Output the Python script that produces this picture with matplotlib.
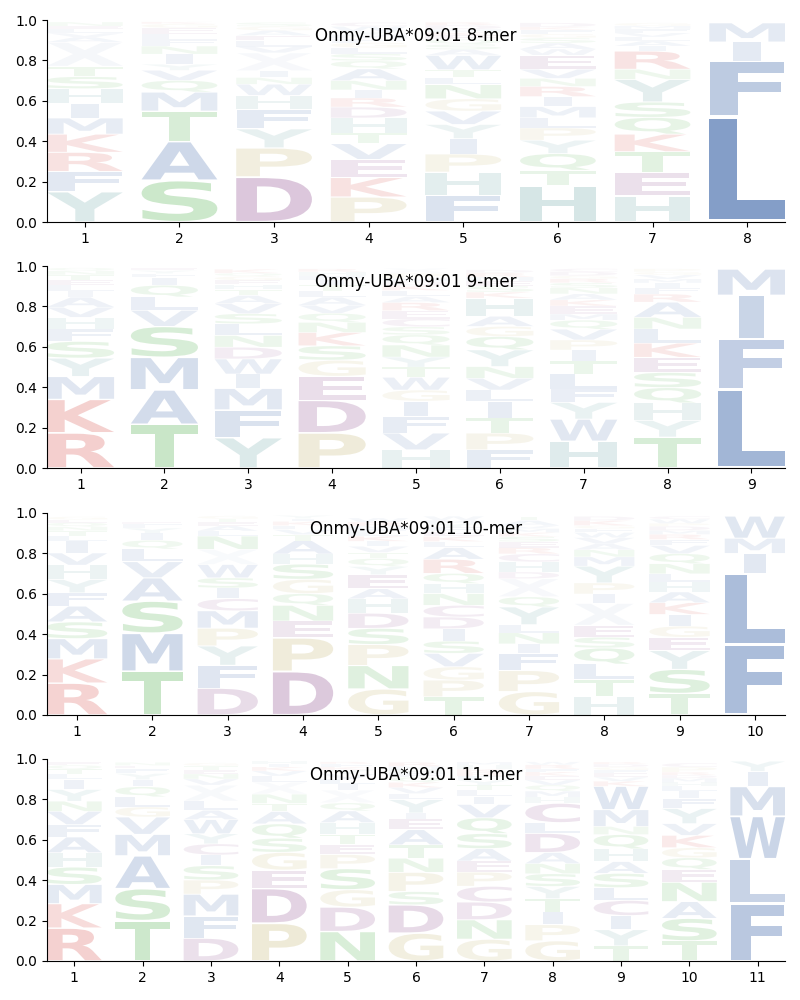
import matplotlib
matplotlib.use("Agg")
import matplotlib.pyplot as plt
import matplotlib.transforms as mtransforms
from matplotlib.textpath import TextPath
from matplotlib.patches import PathPatch
from matplotlib.font_manager import FontProperties

## stacked letters per position, bottom -> top, with their heights
mer8_letters = ["YFRKMIHSTXAVLEN", "SATMQVYINFLEGK", "DPYFHWNIXVLEAGS",
                "PKEVTHDRINAQSLGFMYWC", "FHPIYVGNLTWASQEKMDR",
                "HTQYPLMIRNVEWASGFKD", "HETKQSYNRIALVFMG", "LFIM"]
mer8_heights = [
    [.15, .10, .095, .09, .08, .07, .075, .06, .05, .12, .025, .02, .02, .015, .02],
    [.206, .193, .15, .094, .058, .05, .03, .05, .04, .03, .03, .03, .02, .01],
    [.223, .144, .094, .096, .07, .055, .033, .033, .09, .03, .03, .025, .025, .02, .02],
    [.124, .096, .09, .078, .053, .074, .054, .045, .04, .046, .058, .04, .035, .03, .025, .02, .02, .015, .025, .02],
    [.132, .115, .09, .076, .07, .066, .061, .07, .036, .038, .07, .03, .025, .025, .02, .015, .015, .02, .015],
    [.18, .076, .083, .066, .061, .05, .055, .05, .05, .04, .045, .07, .03, .03, .025, .02, .02, .015, .02],
    [.129, .115, .104, .087, .083, .076, .112, .05, .09, .025, .025, .02, .02, .02, .015, .015],
    [.525, .272, .094, .095],
]

mer9_letters = ["RKMYSFHVAILETNQ", "TAMSVLQIFYE", "YFMIWDNLSVATHEGQK",
                "PDEGSKNQVALTIFHR", "HVFIGWTYNQSCERALKDMPX",
                "FPTILVNYQGAHKSEMRD", "HWYFLTIPVQMEKANSRGDC",
                "TYHQSEKLNARFIMVGP", "LFIM"]
mer9_heights = [
    [.174, .166, .113, .091, .083, .061, .058, .05, .05, .03, .03, .025, .025, .02, .015],
    [.216, .171, .161, .153, .08, .066, .058, .038, .02, .015, .01],
    [.15, .138, .106, .071, .075, .058, .058, .058, .05, .05, .04, .03, .025, .02, .02, .015, .02],
    [.174, .161, .119, .08, .071, .066, .05, .045, .04, .04, .03, .03, .025, .02, .02, .015],
    [.09, .083, .083, .075, .055, .063, .05, .05, .06, .05, .04, .04, .04, .04, .03, .03, .025, .02, .015, .025, .025],
    [.09, .083, .075, .08, .058, .058, .058, .083, .066, .05, .05, .09, .03, .03, .025, .02, .02, .015],
    [.133, .109, .083, .066, .075, .063, .055, .05, .053, .045, .03, .04, .03, .03, .03, .025, .02, .015, .02, .015],
    [.153, .083, .086, .076, .075, .075, .07, .07, .058, .075, .04, .03, .025, .02, .02, .015, .015],
    [.39, .25, .215, .13],
]

mer10_letters = ["RKMSAFYHVILTNQEG", "TMSAVLQIYFE", "DFYPMCISWXNLAETG",
                 "DPENQGSHATVLKIY", "GNPSDHAEYQTVIKLFMRW",
                 "TPGVSIDCNHQRALKEFYMW", "GPFINLYQXDHCRESKMVAT",
                 "HTLQSEXIPYMNAVWFGKD", "TSYEGIKAHLNQVFRMDPWC", "FLIMW"]
mer10_heights = [
    [.158, .12, .1, .083, .078, .066, .066, .071, .06, .06, .025, .025, .02, .02, .015, .015],
    [.216, .189, .159, .115, .08, .063, .043, .035, .025, .02, .01],
    [.133, .113, .096, .088, .086, .06, .053, .05, .066, .075, .066, .025, .025, .02, .015, .015],
    [.216, .166, .083, .078, .058, .071, .075, .05, .066, .03, .025, .02, .02, .015, .015],
    [.129, .116, .104, .08, .075, .071, .05, .07, .04, .04, .03, .03, .025, .025, .02, .015, .015, .02, .02],
    [.09, .083, .066, .066, .061, .061, .058, .058, .058, .05, .05, .07, .058, .03, .025, .025, .02, .02, .015, .02],
    [.116, .104, .086, .046, .055, .04, .088, .05, .09, .033, .05, .04, .03, .03, .025, .02, .02, .015, .025, .02],
    [.09, .086, .076, .08, .053, .058, .11, .046, .055, .083, .046, .035, .03, .03, .025, .02, .015, .025, .02],
    [.107, .119, .093, .066, .055, .058, .058, .053, .05, .04, .05, .05, .04, .03, .025, .02, .02, .015, .02, .015],
    [.35, .35, .1, .075, .11],
]

mer11_letters = ["RKMSHAFVNYILTQE", "TSAMVGLQIYFEN", "DFMPSICYWALXVNETG",
                 "PDEGSQATNXLVKIH", "NDGSPETHAQXILVYKFR",
                 "GDSPNTAEIYLVKQFHMR", "GNDCPEASQVILTYFRKHM",
                 "GPITYSNADLCHMQVEKFRW", "TYICLSAHQNMWKVEFGDR",
                 "TSANEQGKVYFILHMDRPC", "FLWMIY"]
mer11_heights = [
    [.163, .121, .095, .086, .071, .078, .061, .066, .05, .058, .05, .025, .025, .02, .015],
    [.2, .158, .163, .106, .086, .05, .05, .05, .035, .03, .025, .015, .015],
    [.113, .11, .108, .07, .071, .053, .055, .05, .07, .046, .045, .08, .03, .025, .02, .02, .015],
    [.187, .172, .091, .088, .07, .071, .061, .04, .046, .06, .03, .025, .02, .015, .015],
    [.146, .121, .086, .104, .07, .05, .05, .058, .058, .04, .063, .03, .025, .025, .02, .015, .015, .01],
    [.138, .14, .066, .095, .07, .066, .075, .053, .03, .066, .03, .03, .025, .025, .02, .02, .015, .02],
    [.108, .096, .088, .078, .07, .055, .061, .075, .078, .066, .04, .03, .025, .025, .02, .02, .015, .02, .015],
    [.1, .08, .063, .066, .06, .063, .05, .055, .095, .053, .096, .03, .03, .03, .025, .02, .02, .015, .02, .015],
    [.075, .08, .07, .075, .063, .071, .058, .063, .071, .04, .083, .116, .025, .02, .02, .015, .015, .015, .01],
    [.1, .111, .083, .096, .063, .058, .05, .061, .058, .075, .05, .035, .025, .02, .02, .015, .015, .025, .02],
    [.285, .22, .212, .147, .075, .05],
]

panels = [("Onmy-UBA*09:01 8-mer", mer8_letters, mer8_heights),
          ("Onmy-UBA*09:01 9-mer", mer9_letters, mer9_heights),
          ("Onmy-UBA*09:01 10-mer", mer10_letters, mer10_heights),
          ("Onmy-UBA*09:01 11-mer", mer11_letters, mer11_heights)]

## colour by residue group
blue, red, green, purple, olive, teal = "#4c72b0", "#d43f3a", "#4daf4a", "#8e4d8e", "#c2b26a", "#5f9ea0"
aa_color = {}
for aa in "AFILMVWX":
    aa_color[aa] = blue
for aa in "KR":
    aa_color[aa] = red
for aa in "STNQ":
    aa_color[aa] = green
for aa in "DEC":
    aa_color[aa] = purple
for aa in "PG":
    aa_color[aa] = olive
for aa in "HY":
    aa_color[aa] = teal

WIDTH = 0.8
VPAD = 0.05
fp = FontProperties(family="DejaVu Sans", weight="bold")
# narrow glyphs are not stretched wider than 'E' would be
ref_width = TextPath((0, 0), "E", size=1, prop=fp).get_extents().width


def draw_letter(ax, ch, x, y0, h):
    path = TextPath((0, 0), ch, size=1, prop=fp)
    ext = path.get_extents()
    sx = min(WIDTH / ext.width, WIDTH / ref_width)
    gw = ext.width * sx
    gh = h * (1 - VPAD)
    tr = (mtransforms.Affine2D()
          .translate(-ext.x0, -ext.y0)
          .scale(sx, gh / ext.height)
          .translate(x - gw / 2, y0 + h * VPAD / 2))
    alpha = min(1.0, 0.03 + 1.25 * h)
    if ch == "X":
        alpha *= 0.3
    ax.add_patch(PathPatch(tr.transform_path(path), facecolor=aa_color[ch],
                           edgecolor="none", alpha=alpha))


fig = plt.figure(figsize=(8, 10), dpi=100)
bottoms = [0.778, 0.532, 0.285, 0.039]
for (title, letters, heights), b in zip(panels, bottoms):
    ax = fig.add_axes([0.05875, b, 0.9225, 0.202])
    n = len(letters)
    for i in range(n):
        y = 0.0
        for ch, h in zip(letters[i], heights[i]):
            draw_letter(ax, ch, i + 1, y, h)
            y += h
    ax.set_xlim(1 - 0.4, n + 0.4)
    ax.set_ylim(0, 1)
    ax.set_xticks(range(1, n + 1))
    ax.set_yticks([0, 0.2, 0.4, 0.6, 0.8, 1.0])
    ax.spines["top"].set_visible(False)
    ax.spines["right"].set_visible(False)
    ax.text(0.5, 0.92, title, transform=ax.transAxes, ha="center", va="center", fontsize=12)

fig.savefig("out.png")
